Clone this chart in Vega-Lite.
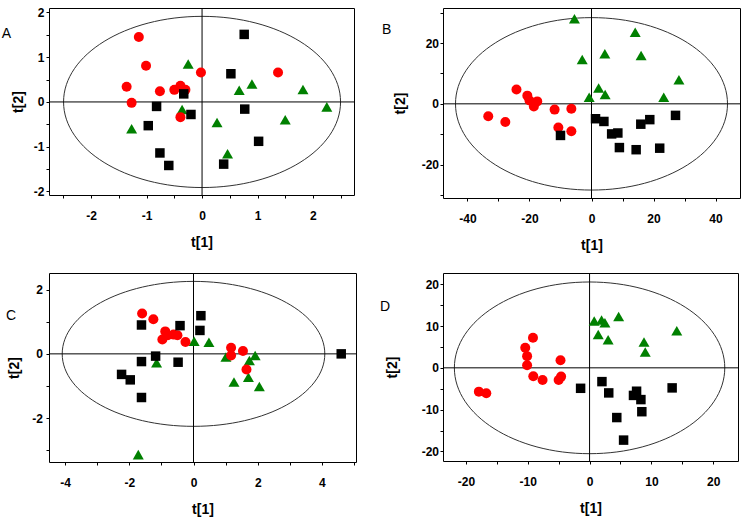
{
  "$schema": "https://vega.github.io/schema/vega-lite/v6.json",
  "padding": {"left": 1, "top": 5, "right": 0, "bottom": 0},
  "background": "white",
  "columns": 2,
  "bounds": "flush",
  "align": "all",
  "spacing": {"row": 75, "column": 87},
  "datasets": {
    "origin": [{"t1": 0, "t2": 0}],
    "A": [
      {"t1": -0.25, "t2": 0.85, "g": "G"}, {"t1": -1.27, "t2": -0.60, "g": "G"}, {"t1": -0.36, "t2": -0.17, "g": "G"},
      {"t1": 0.27, "t2": -0.46, "g": "G"}, {"t1": 0.67, "t2": 0.26, "g": "G"}, {"t1": 0.90, "t2": 0.40, "g": "G"},
      {"t1": 0.46, "t2": -1.16, "g": "G"}, {"t1": 1.50, "t2": -0.40, "g": "G"}, {"t1": 1.82, "t2": 0.28, "g": "G"},
      {"t1": 2.25, "t2": -0.11, "g": "G"},
      {"t1": -1.14, "t2": 1.45, "g": "R"}, {"t1": -1.01, "t2": 0.81, "g": "R"}, {"t1": -1.36, "t2": 0.34, "g": "R"},
      {"t1": -1.27, "t2": -0.02, "g": "R"}, {"t1": -0.76, "t2": 0.24, "g": "R"}, {"t1": -0.50, "t2": 0.27, "g": "R"},
      {"t1": -0.39, "t2": 0.36, "g": "R"}, {"t1": -0.30, "t2": 0.27, "g": "R"}, {"t1": -0.39, "t2": -0.34, "g": "R"},
      {"t1": -0.02, "t2": 0.66, "g": "R"}, {"t1": 1.37, "t2": 0.66, "g": "R"},
      {"t1": 0.76, "t2": 1.51, "g": "K"}, {"t1": 0.52, "t2": 0.63, "g": "K"}, {"t1": -0.33, "t2": 0.18, "g": "K"},
      {"t1": -0.82, "t2": -0.10, "g": "K"}, {"t1": -0.20, "t2": -0.28, "g": "K"}, {"t1": -0.97, "t2": -0.53, "g": "K"},
      {"t1": 0.77, "t2": -0.16, "g": "K"}, {"t1": -0.76, "t2": -1.14, "g": "K"}, {"t1": -0.60, "t2": -1.42, "g": "K"},
      {"t1": 0.39, "t2": -1.39, "g": "K"}, {"t1": 1.02, "t2": -0.88, "g": "K"}
    ],
    "B": [
      {"t1": -5.5, "t2": 28.0, "g": "G"}, {"t1": -3.0, "t2": 14.6, "g": "G"}, {"t1": 4.3, "t2": 16.5, "g": "G"},
      {"t1": 14.1, "t2": 23.6, "g": "G"}, {"t1": 16.0, "t2": 15.9, "g": "G"}, {"t1": 28.2, "t2": 7.9, "g": "G"},
      {"t1": 23.3, "t2": 2.2, "g": "G"}, {"t1": -0.75, "t2": 2.2, "g": "G"}, {"t1": 2.3, "t2": 5.2, "g": "G"},
      {"t1": 4.4, "t2": 3.1, "g": "G"},
      {"t1": -33.3, "t2": -4.1, "g": "R"}, {"t1": -27.8, "t2": -6.0, "g": "R"}, {"t1": -24.2, "t2": 4.7, "g": "R"},
      {"t1": -20.7, "t2": 2.7, "g": "R"}, {"t1": -20.0, "t2": 1.1, "g": "R"}, {"t1": -18.6, "t2": -0.9, "g": "R"},
      {"t1": -17.5, "t2": 0.8, "g": "R"}, {"t1": -11.9, "t2": -1.9, "g": "R"}, {"t1": -6.5, "t2": -1.6, "g": "R"},
      {"t1": -10.7, "t2": -7.8, "g": "R"}, {"t1": -6.5, "t2": -9.0, "g": "R"},
      {"t1": -10.0, "t2": -10.4, "g": "K"}, {"t1": 1.3, "t2": -4.9, "g": "K"}, {"t1": 4.0, "t2": -5.8, "g": "K"},
      {"t1": 6.5, "t2": -9.9, "g": "K"}, {"t1": 8.5, "t2": -9.6, "g": "K"}, {"t1": 9.0, "t2": -14.4, "g": "K"},
      {"t1": 14.4, "t2": -15.1, "g": "K"}, {"t1": 15.9, "t2": -6.7, "g": "K"}, {"t1": 18.8, "t2": -5.2, "g": "K"},
      {"t1": 22.0, "t2": -14.6, "g": "K"}, {"t1": 27.1, "t2": -3.8, "g": "K"}
    ],
    "C": [
      {"t1": 0.02, "t2": 0.39, "g": "G"}, {"t1": 0.48, "t2": 0.36, "g": "G"}, {"t1": -1.15, "t2": -0.28, "g": "G"},
      {"t1": 1.01, "t2": -0.10, "g": "G"}, {"t1": 1.74, "t2": -0.21, "g": "G"}, {"t1": 1.92, "t2": -0.05, "g": "G"},
      {"t1": 1.26, "t2": -0.88, "g": "G"}, {"t1": 1.71, "t2": -0.73, "g": "G"}, {"t1": 2.05, "t2": -1.02, "g": "G"},
      {"t1": -1.72, "t2": -3.14, "g": "G"},
      {"t1": -1.60, "t2": 1.26, "g": "R"}, {"t1": -1.25, "t2": 1.08, "g": "R"}, {"t1": -0.88, "t2": 0.70, "g": "R"},
      {"t1": -0.97, "t2": 0.45, "g": "R"}, {"t1": -0.80, "t2": 0.58, "g": "R"}, {"t1": -0.62, "t2": 0.60, "g": "R"},
      {"t1": -0.50, "t2": 0.58, "g": "R"}, {"t1": -0.25, "t2": 0.37, "g": "R"}, {"t1": 1.17, "t2": 0.19, "g": "R"},
      {"t1": 1.17, "t2": -0.05, "g": "R"}, {"t1": 1.54, "t2": 0.09, "g": "R"}, {"t1": 1.65, "t2": -0.49, "g": "R"},
      {"t1": -1.62, "t2": 0.90, "g": "K"}, {"t1": -0.42, "t2": 0.88, "g": "K"}, {"t1": 0.23, "t2": 1.19, "g": "K"},
      {"t1": 0.20, "t2": 0.73, "g": "K"}, {"t1": -1.18, "t2": -0.07, "g": "K"}, {"t1": -1.62, "t2": -0.24, "g": "K"},
      {"t1": -0.48, "t2": -0.26, "g": "K"}, {"t1": -2.24, "t2": -0.64, "g": "K"}, {"t1": -1.97, "t2": -0.81, "g": "K"},
      {"t1": -1.62, "t2": -1.36, "g": "K"}, {"t1": 4.60, "t2": 0.0, "g": "K"}
    ],
    "D": [
      {"t1": 0.75, "t2": 11.2, "g": "G"}, {"t1": 1.94, "t2": 11.45, "g": "G"}, {"t1": 2.48, "t2": 10.8, "g": "G"},
      {"t1": 1.4, "t2": 8.0, "g": "G"}, {"t1": 3.0, "t2": 6.7, "g": "G"}, {"t1": 4.7, "t2": 12.3, "g": "G"},
      {"t1": 8.8, "t2": 6.2, "g": "G"}, {"t1": 9.0, "t2": 3.8, "g": "G"}, {"t1": 14.1, "t2": 8.9, "g": "G"},
      {"t1": -17.9, "t2": -5.7, "g": "R"}, {"t1": -16.7, "t2": -6.1, "g": "R"}, {"t1": -9.15, "t2": 7.2, "g": "R"},
      {"t1": -10.4, "t2": 4.8, "g": "R"}, {"t1": -10.1, "t2": 2.8, "g": "R"}, {"t1": -10.1, "t2": 0.6, "g": "R"},
      {"t1": -9.1, "t2": -2.0, "g": "R"}, {"t1": -7.6, "t2": -2.9, "g": "R"}, {"t1": -4.7, "t2": 1.8, "g": "R"},
      {"t1": -4.6, "t2": -2.1, "g": "R"}, {"t1": -5.0, "t2": -2.9, "g": "R"},
      {"t1": -1.45, "t2": -4.9, "g": "K"}, {"t1": 2.0, "t2": -3.3, "g": "K"}, {"t1": 3.1, "t2": -6.0, "g": "K"},
      {"t1": 7.1, "t2": -6.6, "g": "K"}, {"t1": 7.6, "t2": -5.6, "g": "K"}, {"t1": 8.3, "t2": -7.6, "g": "K"},
      {"t1": 8.45, "t2": -10.5, "g": "K"}, {"t1": 4.4, "t2": -11.9, "g": "K"}, {"t1": 5.5, "t2": -17.3, "g": "K"},
      {"t1": 13.35, "t2": -4.8, "g": "K"}
    ]
  },
  "concat": [
    {
      "width": 305, "height": 187,
      "title": {"text": "A", "dx": 13.1, "dy": 18.7},
      "layer": [
        {"data": {"name": "origin"},
         "mark": {"type": "point", "shape": "M -1 0 A 1 0.618 0 1 0 1 0 A 1 0.618 0 1 0 -1 0 Z", "size": 76729, "filled": false, "stroke": "#333333", "strokeWidth": 1, "opacity": 1},
         "encoding": {
           "x": {"field": "t1", "type": "quantitative", "title": "t[1]", "scale": {"domain": [-2.76, 2.74], "nice": false, "zero": false},
                 "axis": {"values": [-2.5, -2, -1.5, -1, -0.5, 0, 0.5, 1, 1.5, 2, 2.5], "tickCount": 100, "labelExpr": "datum.value % 1 === 0 ? (datum.value < 0 ? '-' + abs(datum.value) : '' + datum.value) : ''"}},
           "y": {"field": "t2", "type": "quantitative", "title": "t[2]", "scale": {"domain": [-2.08, 2.10], "nice": false, "zero": false},
                 "axis": {"values": [-2, -1.5, -1, -0.5, 0, 0.5, 1, 1.5, 2], "tickCount": 100, "labelExpr": "datum.value % 1 === 0 ? (datum.value < 0 ? '-' + abs(datum.value) : '' + datum.value) : ''", "labelPadding": 2, "titlePadding": 8}}
         }},
        {"data": {"name": "origin"}, "mark": {"type": "rule", "color": "#000000", "strokeWidth": 1},
         "encoding": {"x": {"field": "t1", "type": "quantitative", "title": "t[1]"}}},
        {"data": {"name": "origin"}, "mark": {"type": "rule", "color": "#000000", "strokeWidth": 1},
         "encoding": {"y": {"field": "t2", "type": "quantitative", "title": "t[2]"}}},
        {"data": {"name": "A"}, "transform": [{"filter": "datum.g === 'G'"}],
         "mark": {"type": "point", "shape": "triangle-up", "filled": true, "color": "#008000", "size": 121, "opacity": 1},
         "encoding": {"x": {"field": "t1", "type": "quantitative", "title": "t[1]"}, "y": {"field": "t2", "type": "quantitative", "title": "t[2]"}}},
        {"data": {"name": "A"}, "transform": [{"filter": "datum.g === 'R'"}],
         "mark": {"type": "point", "shape": "circle", "filled": true, "color": "#ff0000", "size": 100, "opacity": 1},
         "encoding": {"x": {"field": "t1", "type": "quantitative", "title": "t[1]"}, "y": {"field": "t2", "type": "quantitative", "title": "t[2]"}}},
        {"data": {"name": "A"}, "transform": [{"filter": "datum.g === 'K'"}],
         "mark": {"type": "point", "shape": "square", "filled": true, "color": "#000000", "size": 90, "opacity": 1},
         "encoding": {"x": {"field": "t1", "type": "quantitative", "title": "t[1]"}, "y": {"field": "t2", "type": "quantitative", "title": "t[2]"}}}
      ]
    },
    {
      "width": 297, "height": 190,
      "title": {"text": "B", "dx": 11.6, "dy": 15.3},
      "layer": [
        {"data": {"name": "origin"},
         "mark": {"type": "point", "shape": "M -1 0 A 1 0.634 0 1 0 1 0 A 1 0.634 0 1 0 -1 0 Z", "size": 73984, "filled": false, "stroke": "#333333", "strokeWidth": 1, "opacity": 1},
         "encoding": {
           "x": {"field": "t1", "type": "quantitative", "title": "t[1]", "scale": {"domain": [-47.9, 47.9], "nice": false, "zero": false},
                 "axis": {"values": [-40, -30, -20, -10, 0, 10, 20, 30, 40], "tickCount": 100, "labelExpr": "datum.value % 20 === 0 ? (datum.value < 0 ? '-' + abs(datum.value) : '' + datum.value) : ''"}},
           "y": {"field": "t2", "type": "quantitative", "title": "t[2]", "scale": {"domain": [-31.0, 31.55], "nice": false, "zero": false},
                 "axis": {"values": [-30, -20, -10, 0, 10, 20, 30], "tickCount": 100, "labelExpr": "datum.value % 20 === 0 ? (datum.value < 0 ? '-' + abs(datum.value) : '' + datum.value) : ''", "labelPadding": 1.5, "titlePadding": 14}}
         }},
        {"data": {"name": "origin"}, "mark": {"type": "rule", "color": "#000000", "strokeWidth": 1},
         "encoding": {"x": {"field": "t1", "type": "quantitative", "title": "t[1]"}}},
        {"data": {"name": "origin"}, "mark": {"type": "rule", "color": "#000000", "strokeWidth": 1},
         "encoding": {"y": {"field": "t2", "type": "quantitative", "title": "t[2]"}}},
        {"data": {"name": "B"}, "transform": [{"filter": "datum.g === 'G'"}],
         "mark": {"type": "point", "shape": "triangle-up", "filled": true, "color": "#008000", "size": 121, "opacity": 1},
         "encoding": {"x": {"field": "t1", "type": "quantitative", "title": "t[1]"}, "y": {"field": "t2", "type": "quantitative", "title": "t[2]"}}},
        {"data": {"name": "B"}, "transform": [{"filter": "datum.g === 'R'"}],
         "mark": {"type": "point", "shape": "circle", "filled": true, "color": "#ff0000", "size": 100, "opacity": 1},
         "encoding": {"x": {"field": "t1", "type": "quantitative", "title": "t[1]"}, "y": {"field": "t2", "type": "quantitative", "title": "t[2]"}}},
        {"data": {"name": "B"}, "transform": [{"filter": "datum.g === 'K'"}],
         "mark": {"type": "point", "shape": "square", "filled": true, "color": "#000000", "size": 90, "opacity": 1},
         "encoding": {"x": {"field": "t1", "type": "quantitative", "title": "t[1]"}, "y": {"field": "t2", "type": "quantitative", "title": "t[2]"}}}
      ]
    },
    {
      "width": 307, "height": 189,
      "title": {"text": "C", "dx": 22.9, "dy": 35.7},
      "layer": [
        {"data": {"name": "origin"},
         "mark": {"type": "point", "shape": "M -1 0 A 1 0.552 0 1 0 1 0 A 1 0.552 0 1 0 -1 0 Z", "size": 68959, "filled": false, "stroke": "#333333", "strokeWidth": 1, "opacity": 1},
         "encoding": {
           "x": {"field": "t1", "type": "quantitative", "title": "t[1]", "scale": {"domain": [-4.5, 5.06], "nice": false, "zero": false},
                 "axis": {"values": [-4, -3, -2, -1, 0, 1, 2, 3, 4, 5], "tickCount": 100, "labelExpr": "datum.value % 2 === 0 ? (datum.value < 0 ? '-' + abs(datum.value) : '' + datum.value) : ''"}},
           "y": {"field": "t2", "type": "quantitative", "title": "t[2]", "scale": {"domain": [-3.37, 2.52], "nice": false, "zero": false},
                 "axis": {"values": [-3, -2, -1, 0, 1, 2], "tickCount": 100, "labelExpr": "datum.value % 2 === 0 ? (datum.value < 0 ? '-' + abs(datum.value) : '' + datum.value) : ''", "labelPadding": 3.5, "titlePadding": 10.5}}
         }},
        {"data": {"name": "origin"}, "mark": {"type": "rule", "color": "#000000", "strokeWidth": 1},
         "encoding": {"x": {"field": "t1", "type": "quantitative", "title": "t[1]"}}},
        {"data": {"name": "origin"}, "mark": {"type": "rule", "color": "#000000", "strokeWidth": 1},
         "encoding": {"y": {"field": "t2", "type": "quantitative", "title": "t[2]"}}},
        {"data": {"name": "C"}, "transform": [{"filter": "datum.g === 'G'"}],
         "mark": {"type": "point", "shape": "triangle-up", "filled": true, "color": "#008000", "size": 121, "opacity": 1},
         "encoding": {"x": {"field": "t1", "type": "quantitative", "title": "t[1]"}, "y": {"field": "t2", "type": "quantitative", "title": "t[2]"}}},
        {"data": {"name": "C"}, "transform": [{"filter": "datum.g === 'R'"}],
         "mark": {"type": "point", "shape": "circle", "filled": true, "color": "#ff0000", "size": 100, "opacity": 1},
         "encoding": {"x": {"field": "t1", "type": "quantitative", "title": "t[1]"}, "y": {"field": "t2", "type": "quantitative", "title": "t[2]"}}},
        {"data": {"name": "C"}, "transform": [{"filter": "datum.g === 'K'"}],
         "mark": {"type": "point", "shape": "square", "filled": true, "color": "#000000", "size": 90, "opacity": 1},
         "encoding": {"x": {"field": "t1", "type": "quantitative", "title": "t[1]"}, "y": {"field": "t2", "type": "quantitative", "title": "t[2]"}}}
      ]
    },
    {
      "width": 295, "height": 188,
      "title": {"text": "D", "dx": 19, "dy": 27},
      "layer": [
        {"data": {"name": "origin"},
         "mark": {"type": "point", "shape": "M -1 0 A 1 0.635 0 1 0 1 0 A 1 0.635 0 1 0 -1 0 Z", "size": 73116, "filled": false, "stroke": "#333333", "strokeWidth": 1, "opacity": 1},
         "encoding": {
           "x": {"field": "t1", "type": "quantitative", "title": "t[1]", "scale": {"domain": [-23.7, 24.0], "nice": false, "zero": false},
                 "axis": {"values": [-20, -15, -10, -5, 0, 5, 10, 15, 20], "tickCount": 100, "labelExpr": "datum.value % 10 === 0 ? (datum.value < 0 ? '-' + abs(datum.value) : '' + datum.value) : ''"}},
           "y": {"field": "t2", "type": "quantitative", "title": "t[2]", "scale": {"domain": [-22.3, 22.7], "nice": false, "zero": false},
                 "axis": {"values": [-20, -15, -10, -5, 0, 5, 10, 15, 20], "tickCount": 100, "labelExpr": "datum.value % 10 === 0 ? (datum.value < 0 ? '-' + abs(datum.value) : '' + datum.value) : ''", "labelPadding": 1.5, "titlePadding": 22}}
         }},
        {"data": {"name": "origin"}, "mark": {"type": "rule", "color": "#000000", "strokeWidth": 1},
         "encoding": {"x": {"field": "t1", "type": "quantitative", "title": "t[1]"}}},
        {"data": {"name": "origin"}, "mark": {"type": "rule", "color": "#000000", "strokeWidth": 1},
         "encoding": {"y": {"field": "t2", "type": "quantitative", "title": "t[2]"}}},
        {"data": {"name": "D"}, "transform": [{"filter": "datum.g === 'G'"}],
         "mark": {"type": "point", "shape": "triangle-up", "filled": true, "color": "#008000", "size": 121, "opacity": 1},
         "encoding": {"x": {"field": "t1", "type": "quantitative", "title": "t[1]"}, "y": {"field": "t2", "type": "quantitative", "title": "t[2]"}}},
        {"data": {"name": "D"}, "transform": [{"filter": "datum.g === 'R'"}],
         "mark": {"type": "point", "shape": "circle", "filled": true, "color": "#ff0000", "size": 100, "opacity": 1},
         "encoding": {"x": {"field": "t1", "type": "quantitative", "title": "t[1]"}, "y": {"field": "t2", "type": "quantitative", "title": "t[2]"}}},
        {"data": {"name": "D"}, "transform": [{"filter": "datum.g === 'K'"}],
         "mark": {"type": "point", "shape": "square", "filled": true, "color": "#000000", "size": 90, "opacity": 1},
         "encoding": {"x": {"field": "t1", "type": "quantitative", "title": "t[1]"}, "y": {"field": "t2", "type": "quantitative", "title": "t[2]"}}}
      ]
    }
  ],
  "config": {
    "view": {"stroke": "#000000", "strokeWidth": 1},
    "font": "Liberation Sans",
    "axis": {"domain": false, "grid": false, "ticks": true, "tickColor": "#000000", "tickSize": 3, "tickWidth": 1,
             "labelFont": "Liberation Sans", "labelFontSize": 12, "labelFontWeight": "bold", "labelColor": "#000000",
             "labelOverlap": false, "labelFlush": false, "labelBound": false,
             "titleFont": "Liberation Sans", "titleFontSize": 14, "titleFontWeight": "bold", "titleColor": "#000000"},
    "axisX": {"labelPadding": 12, "titlePadding": 14},
    "title": {"font": "Liberation Sans", "fontSize": 14, "fontWeight": "normal", "color": "#000000",
              "orient": "left", "anchor": "end", "frame": "group", "angle": 0, "align": "left", "baseline": "top", "offset": 0}
  }
}
